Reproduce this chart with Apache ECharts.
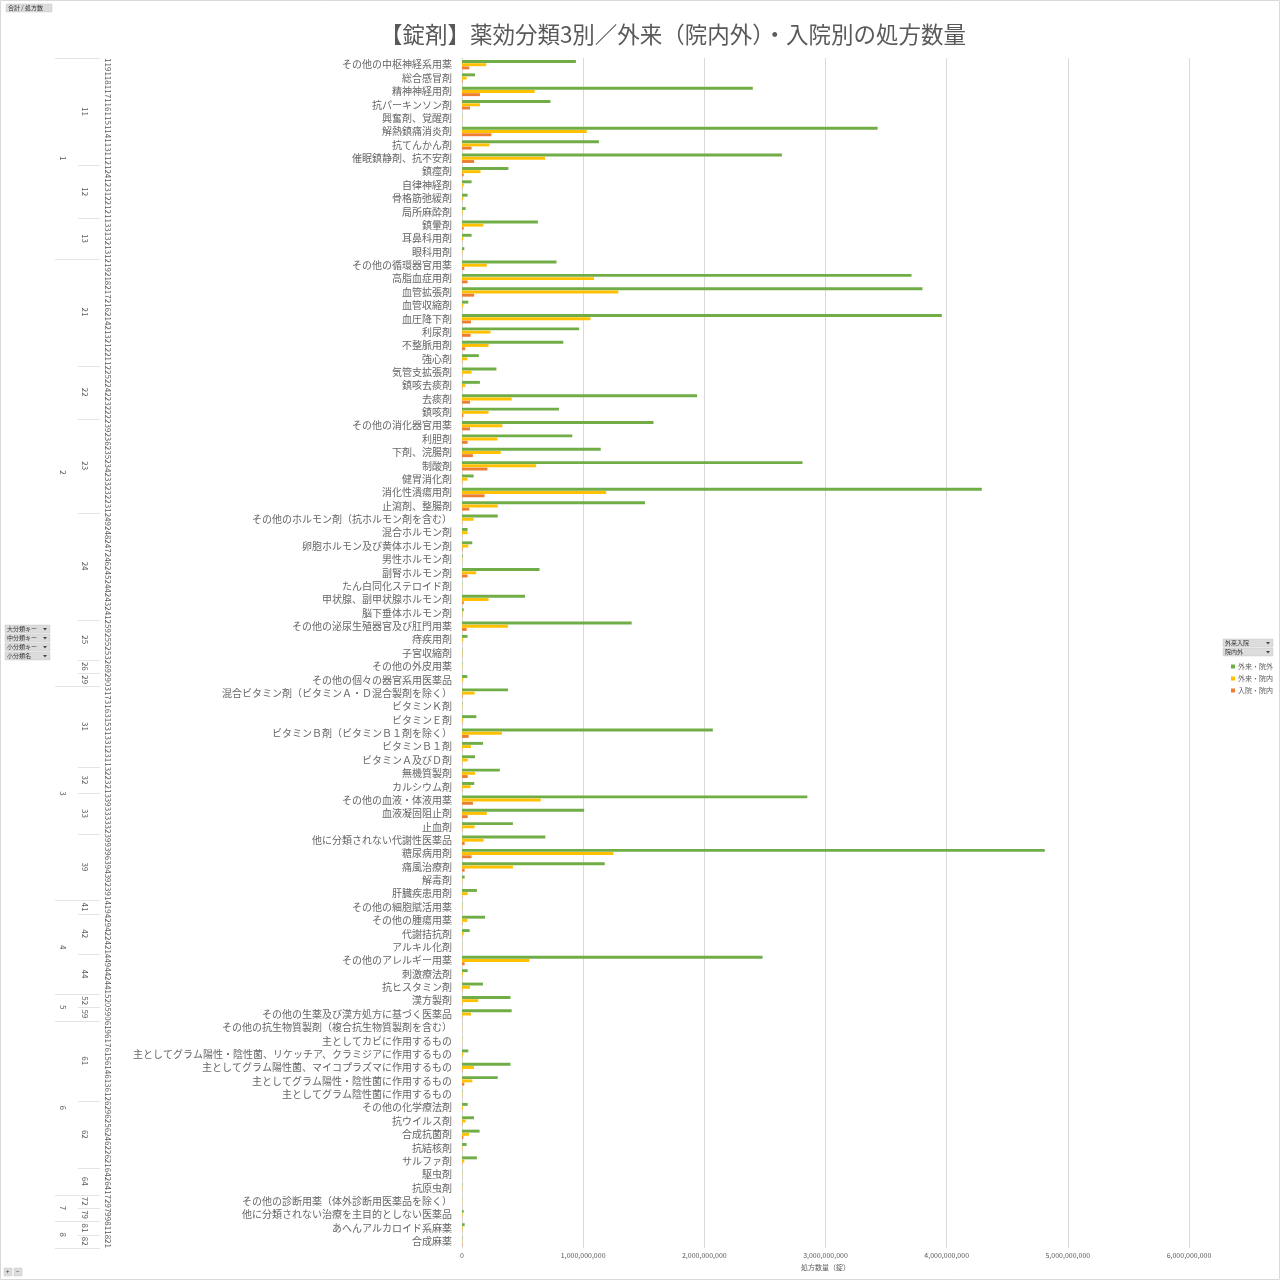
<!DOCTYPE html>
<html>
<head>
<meta charset="utf-8">
<script src="https://cdn.jsdelivr.net/npm/echarts@6/dist/echarts.min.js"></script>
<style>
  html, body { margin: 0; padding: 0; background: #fff; }
  #main { width: 1280px; height: 1280px; }
</style>
</head>
<body>
<div id="main"></div>
<script>
// 小分類コード（上から順）
var codes = [119,118,117,116,115,114,113,112,124,123,122,121,133,132,131,
  219,218,217,216,214,213,212,211,225,224,223,222,239,236,235,234,233,232,231,
  249,248,247,246,245,244,243,241,259,255,253,269,290,
  317,316,315,313,312,311,322,321,339,333,332,399,396,394,392,391,
  419,429,422,421,449,442,441,520,590,
  619,617,615,614,613,612,629,625,624,622,621,642,641,729,799,811,821];

// 小分類名
var names = ['その他の中枢神経系用薬','総合感冒剤','精神神経用剤','抗パーキンソン剤','興奮剤、覚醒剤','解熱鎮痛消炎剤','抗てんかん剤','催眠鎮静剤、抗不安剤',
  '鎮痙剤','自律神経剤','骨格筋弛緩剤','局所麻酔剤','鎮暈剤','耳鼻科用剤','眼科用剤',
  'その他の循環器官用薬','高脂血症用剤','血管拡張剤','血管収縮剤','血圧降下剤','利尿剤','不整脈用剤','強心剤',
  '気管支拡張剤','鎮咳去痰剤','去痰剤','鎮咳剤',
  'その他の消化器官用薬','利胆剤','下剤、浣腸剤','制酸剤','健胃消化剤','消化性潰瘍用剤','止瀉剤、整腸剤',
  'その他のホルモン剤（抗ホルモン剤を含む）','混合ホルモン剤','卵胞ホルモン及び黄体ホルモン剤','男性ホルモン剤','副腎ホルモン剤','たん白同化ステロイド剤','甲状腺、副甲状腺ホルモン剤','脳下垂体ホルモン剤',
  'その他の泌尿生殖器官及び肛門用薬','痔疾用剤','子宮収縮剤','その他の外皮用薬','その他の個々の器官系用医薬品',
  '混合ビタミン剤（ビタミンＡ・Ｄ混合製剤を除く）','ビタミンＫ剤','ビタミンＥ剤','ビタミンＢ剤（ビタミンＢ１剤を除く）','ビタミンＢ１剤','ビタミンＡ及びＤ剤',
  '無機質製剤','カルシウム剤','その他の血液・体液用薬','血液凝固阻止剤','止血剤',
  '他に分類されない代謝性医薬品','糖尿病用剤','痛風治療剤','解毒剤','肝臓疾患用剤',
  'その他の細胞賦活用薬','その他の腫瘍用薬','代謝拮抗剤','アルキル化剤','その他のアレルギー用薬','刺激療法剤','抗ヒスタミン剤',
  '漢方製剤','その他の生薬及び漢方処方に基づく医薬品',
  'その他の抗生物質製剤（複合抗生物質製剤を含む）','主としてカビに作用するもの','主としてグラム陽性・陰性菌、リケッチア、クラミジアに作用するもの','主としてグラム陽性菌、マイコプラズマに作用するもの','主としてグラム陽性・陰性菌に作用するもの','主としてグラム陰性菌に作用するもの',
  'その他の化学療法剤','抗ウイルス剤','合成抗菌剤','抗結核剤','サルファ剤','駆虫剤','抗原虫剤',
  'その他の診断用薬（体外診断用医薬品を除く）','他に分類されない治療を主目的としない医薬品','あへんアルカロイド系麻薬','合成麻薬'];

// 外来・院外
var gaiInGai = [9.4e8,1.07e8,2.40e9,7.3e8,2e6,3.43e9,1.13e9,2.64e9,3.83e8,7.9e7,4.6e7,3.0e7,6.26e8,7.9e7,1.9e7,
  7.8e8,3.71e9,3.80e9,5.2e7,3.96e9,9.67e8,8.36e8,1.39e8,2.84e8,1.48e8,1.94e9,8.0e8,1.58e9,9.1e8,1.145e9,2.81e9,9.6e7,4.29e9,1.51e9,
  2.95e8,4.6e7,8.5e7,5e6,6.4e8,2e6,5.2e8,1.4e7,1.40e9,4.6e7,3e6,3e6,4.4e7,
  3.8e8,3e6,1.18e8,2.07e9,1.73e8,1.07e8,3.12e8,1.01e8,2.85e9,1.008e9,4.2e8,6.88e8,4.81e9,1.178e9,2.2e7,1.23e8,
  3e6,1.9e8,6.3e7,2e6,2.48e9,4.7e7,1.73e8,4.0e8,4.1e8,
  2e6,2e6,5.2e7,4.0e8,2.95e8,3e6,4.7e7,9.9e7,1.45e8,3.8e7,1.23e8,2e6,3e6,2e6,1.4e7,2.2e7,3e6];

// 外来・院内
var gaiInNai = [2.0e8,3.8e7,6.0e8,1.48e8,2e6,1.03e9,2.27e8,6.86e8,1.53e8,1.4e7,1.1e7,6e6,1.75e8,1.1e7,4e6,
  2.05e8,1.09e9,1.29e9,1.1e7,1.06e9,2.35e8,2.19e8,4.4e7,7.9e7,2.7e7,4.1e8,2.19e8,3.33e8,2.92e8,3.2e8,6.12e8,4.6e7,1.19e9,2.95e8,
  9.6e7,4.6e7,5.2e7,3e6,1.17e8,2e6,2.19e8,4e6,3.8e8,1.1e7,4e6,4e6,1.1e7,
  1.04e8,3e6,1.1e7,3.3e8,7.4e7,4.7e7,1.07e8,7.1e7,6.5e8,2.05e8,1.04e8,1.78e8,1.25e9,4.2e8,3e6,4.7e7,
  3e6,4.4e7,1.4e7,2e6,5.56e8,8e6,6.6e7,1.34e8,7.4e7,
  2e6,2e6,1.1e7,9.9e7,8.5e7,3e6,8e6,3.0e7,5.8e7,4e6,1.9e7,2e6,3e6,2e6,4e6,5e6,2e6];

// 入院・院内
var nyuInNai = [6e7,5e6,1.48e8,6.6e7,1e6,2.43e8,7.9e7,1.0e8,1.4e7,3e6,2e6,1e6,1.4e7,2e6,1e6,
  1.9e7,4.6e7,1.0e8,2e6,7.4e7,7.1e7,2.7e7,3e6,3e6,3e6,6.6e7,1.1e7,6.6e7,4.6e7,9e7,2.1e8,4e6,1.86e8,6e7,
  3e6,2e6,5e6,1e6,4.6e7,1e6,1.4e7,2e6,3.8e7,2e6,2e6,1e6,2e6,
  5e6,1e6,3e6,5.5e7,3e6,2e6,4.7e7,3e6,9e7,4.7e7,3e6,2.2e7,7.9e7,2.2e7,1e6,2e6,
  1e6,3e6,2e6,1e6,2.2e7,2e6,3e6,4e6,3e6,
  1e6,1e6,2e6,4e6,1.9e7,1e6,2e6,3e6,1.1e7,1e6,2e6,1e6,1e6,1e6,2e6,2e6,3e6];

var seriesNames = ['外来・院外', '外来・院内', '入院・院内'];
var xTicks = [0, 1e9, 2e9, 3e9, 4e9, 5e9, 6e9];

var FONT = '"Noto Sans CJK JP", "Noto Sans", sans-serif';
var TXT = '#595959';
var LINE = '#D9D9D9';

var mychart = echarts.init(document.getElementById('main'));

function barSeries(name, color, data) {
    return {
        name: name,
        type: 'bar',
        barGap: '10%',
        barCategoryGap: '30%',
        itemStyle: { color: color },
        data: data
    };
}

var option = {
    backgroundColor: '#fff',
    animation: false,
    textStyle: { fontFamily: FONT },
    title: {
        text: '【錠剤】薬効分類3別／外来（院内外）・入院別の処方数量',
        left: 668,
        top: 18,
        textAlign: 'center',
        textStyle: { fontSize: 22.5, fontWeight: 'normal', color: TXT, fontFamily: FONT }
    },
    legend: {
        orient: 'vertical',
        left: 1226,
        top: 658,
        itemWidth: 4,
        itemHeight: 4,
        itemGap: 5,
        icon: 'rect',
        data: seriesNames,
        textStyle: { fontSize: 7, color: TXT, padding: [0, 0, 0, -2] }
    },
    grid: { left: 462, right: 91, top: 58, bottom: 32, containLabel: false },
    xAxis: {
        type: 'value',
        min: xTicks[0],
        max: xTicks[xTicks.length - 1],
        interval: 1e9,
        name: '処方数量（錠）',
        nameLocation: 'middle',
        nameGap: 14,
        nameTextStyle: { fontSize: 7, color: TXT },
        axisLine: { show: false },
        axisTick: { show: false },
        axisLabel: {
            fontSize: 7, color: TXT, margin: 4,
            formatter: function (v) { return v.toLocaleString('en-US'); }
        },
        splitLine: { lineStyle: { color: LINE } }
    },
    yAxis: {
        type: 'category',
        inverse: true,
        data: names,
        axisLine: { lineStyle: { color: LINE } },
        axisTick: { length: 362, lineStyle: { color: '#E4E4E4' } },
        axisLabel: { fontSize: 10, color: '#666', margin: 10, interval: 0 }
    },
    series: [
        barSeries(seriesNames[0], '#70AD47', gaiInGai),
        barSeries(seriesNames[1], '#FFC000', gaiInNai),
        barSeries(seriesNames[2], '#ED7D31', nyuInNai)
    ]
};
mychart.setOption(option);

// 多段ラベル（大分類・中分類・小分類コード）を軸の位置から描く
function buildLevels() {
    var c0 = mychart.convertToPixel({ yAxisIndex: 0 }, 0);
    var c1 = mychart.convertToPixel({ yAxisIndex: 0 }, 1);
    var band = c1 - c0;
    var els = [];
    function vtext(x, y, t) {
        els.push({
            type: 'text', x: x, y: y, rotation: -Math.PI / 2, silent: true,
            style: { text: t, fill: TXT, font: '8px ' + FONT, textAlign: 'center', textVerticalAlign: 'middle' }
        });
    }
    function hline(x1, y, x2) {
        els.push({ type: 'line', silent: true, shape: { x1: x1, y1: y, x2: x2, y2: y }, style: { stroke: '#E4E4E4', lineWidth: 1 } });
    }
    var i;
    for (i = 0; i < codes.length; i++) {
        vtext(108, mychart.convertToPixel({ yAxisIndex: 0 }, i), String(codes[i]));
    }
    function groups(keyFn, x, lineX) {
        var start = 0;
        for (var k = 1; k <= codes.length; k++) {
            if (k === codes.length || keyFn(codes[k]) !== keyFn(codes[start])) {
                var yTop = mychart.convertToPixel({ yAxisIndex: 0 }, start) - band / 2;
                var yBot = mychart.convertToPixel({ yAxisIndex: 0 }, k - 1) + band / 2;
                vtext(x, (yTop + yBot) / 2, String(keyFn(codes[start])));
                hline(lineX, Math.round(yTop) + 0.5, 100);
                if (k === codes.length) hline(lineX, Math.round(yBot) + 0.5, 100);
                start = k;
            }
        }
    }
    groups(function (c) { return Math.floor(c / 10); }, 85, 78);
    groups(function (c) { return Math.floor(c / 100); }, 63, 55);

    // ピボットのフィールドボタン
    function btn(x, y, w, t) {
        els.push({ type: 'rect', silent: true, shape: { x: x, y: y, width: w, height: 8 }, style: { fill: '#DCDCDC', stroke: '#C8C8C8', lineWidth: 0.5 } });
        els.push({ type: 'text', silent: true, x: x + 2, y: y + 4, style: { text: t, fill: '#333', font: '6px ' + FONT, textVerticalAlign: 'middle' } });
    }
    function drop(x, y) {
        els.push({ type: 'polygon', silent: true, shape: { points: [[x, y + 3], [x + 4, y + 3], [x + 2, y + 5.5]] }, style: { fill: '#444' } });
    }
    btn(6, 4, 46, '合計 / 処方数');
    var left = ['大分類キー', '中分類キー', '小分類キー', '小分類名'];
    for (i = 0; i < left.length; i++) { btn(5, 625 + i * 9, 45, left[i]); drop(43, 625 + i * 9); }
    var right = ['外来入院', '院内外'];
    for (i = 0; i < right.length; i++) { btn(1223, 639 + i * 9, 50, right[i]); drop(1266, 639 + i * 9); }
    btn(4, 1268, 8, '+');
    btn(14, 1268, 8, '−');
    els.push({ type: 'rect', silent: true, shape: { x: 0.5, y: 0.5, width: 1279, height: 1279 }, style: { fill: 'none', stroke: LINE, lineWidth: 1 } });
    mychart.setOption({ graphic: els });
}
buildLevels();
</script>
</body>
</html>
